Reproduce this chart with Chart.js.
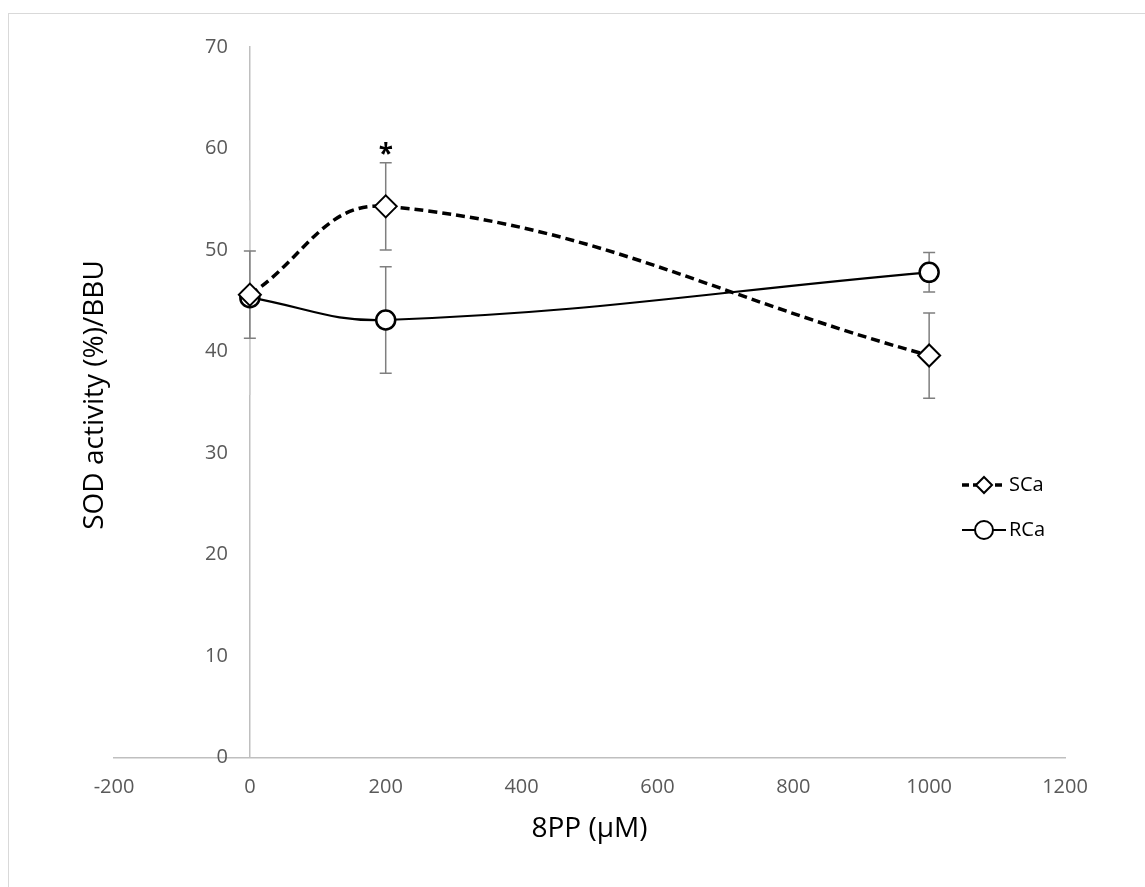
<!DOCTYPE html>
<html>
<head>
<meta charset="utf-8">
<script src="https://cdn.jsdelivr.net/npm/chart.js@4.4.0/dist/chart.umd.min.js"></script>
<style>
  html, body { margin: 0; padding: 0; background: #fff; }
  #wrap { position: relative; width: 1145px; height: 887px; overflow: hidden; }
  #frame { position: absolute; left: 8px; top: 13px; width: 1200px; height: 900px; border: 1.5px solid #d9d9d9; }
  #sodChart { position: absolute; left: 0; top: 0; }
</style>
</head>
<body>
<div id="wrap">
  <div id="frame"></div>
  <canvas id="sodChart" width="1145" height="887"></canvas>
</div>
<script>
// data
const doses = [0, 200, 1000];
const scaValues = [45.6, 54.3, 39.6];
const scaErrors = [4.3, 4.3, 4.2];
const rcaValues = [45.3, 43.1, 47.8];
const rcaErrors = [9.6, 5.25, 1.95];
const xTicks = [-200, 0, 200, 400, 600, 800, 1000, 1200];
const yTicks = [0, 10, 20, 30, 40, 50, 60, 70];

const FONT = "'Open Sans', 'Liberation Sans', sans-serif";

function toPoints(xs, ys) {
    return xs.map((x, i) => ({ x: x, y: ys[i] }));
}

const extrasPlugin = {
    id: 'extras',
    // error bars go under the markers
    beforeDatasetsDraw(chart) {
        const ctx = chart.ctx;
        const xs = chart.scales.x;
        const ys = chart.scales.y;
        const sets = [
            { vals: rcaValues, errs: rcaErrors, caps: [false, true, true] },
            { vals: scaValues, errs: scaErrors, caps: [true, true, true] }
        ];
        ctx.save();
        sets.forEach(s => {
            s.vals.forEach((v, i) => {
                const px = xs.getPixelForValue(doses[i]);
                const top = ys.getPixelForValue(v + s.errs[i]);
                const bot = ys.getPixelForValue(v - s.errs[i]);
                ctx.strokeStyle = s.caps[i] ? '#7f7f7f' : '#cfcfcf';
                ctx.lineWidth = 1.5;
                ctx.beginPath();
                ctx.moveTo(px, top);
                ctx.lineTo(px, bot);
                if (s.caps[i]) {
                    ctx.moveTo(px - 6, top);
                    ctx.lineTo(px + 6, top);
                    ctx.moveTo(px - 6, bot);
                    ctx.lineTo(px + 6, bot);
                }
                ctx.stroke();
            });
        });
        ctx.restore();
    },
    afterDraw(chart) {
        const ctx = chart.ctx;
        const xs = chart.scales.x;
        const ys = chart.scales.y;
        const axisX = xs.getPixelForValue(0);

        ctx.save();
        // y tick labels, left of the crossing axis
        ctx.fillStyle = '#595959';
        ctx.font = '20px ' + FONT;
        ctx.textAlign = 'right';
        ctx.textBaseline = 'middle';
        ys.ticks.forEach(t => {
            ctx.fillText(String(t.value), axisX - 22, ys.getPixelForValue(t.value));
        });

        // significance mark
        ctx.fillStyle = '#000';
        ctx.font = 'bold 26px ' + FONT;
        ctx.textAlign = 'center';
        ctx.fillText('*', xs.getPixelForValue(doses[1]), ys.getPixelForValue(scaValues[1] + scaErrors[1]) - 7);

        // y axis title
        ctx.font = '28px ' + FONT;
        ctx.fillStyle = '#000';
        ctx.translate(95, 395);
        ctx.rotate(-Math.PI / 2);
        ctx.fillText('SOD activity (%)/BBU', 0, 0);
        ctx.restore();

        // legend: line sample with the marker in the middle
        const rows = [
            { label: 'SCa', y: 485, dash: [7, 4], width: 3.5, style: 'rectRot' },
            { label: 'RCa', y: 530, dash: [], width: 2, style: 'circle' }
        ];
        rows.forEach(r => {
            ctx.save();
            ctx.strokeStyle = '#000';
            ctx.lineWidth = r.width;
            ctx.setLineDash(r.dash);
            ctx.beginPath();
            ctx.moveTo(962, r.y);
            ctx.lineTo(1006, r.y);
            ctx.stroke();
            ctx.setLineDash([]);
            ctx.fillStyle = '#fff';
            ctx.lineWidth = 2;
            ctx.beginPath();
            if (r.style === 'circle') {
                ctx.arc(984, r.y, 9, 0, Math.PI * 2);
            } else {
                ctx.moveTo(984, r.y - 8);
                ctx.lineTo(992, r.y);
                ctx.lineTo(984, r.y + 8);
                ctx.lineTo(976, r.y);
                ctx.closePath();
            }
            ctx.fill();
            ctx.stroke();
            ctx.fillStyle = '#000';
            ctx.font = '20px ' + FONT;
            ctx.textAlign = 'left';
            ctx.textBaseline = 'middle';
            ctx.fillText(r.label, 1009, r.y);
            ctx.restore();
        });
    }
};

const ctx = document.getElementById('sodChart');
new Chart(ctx, {
    type: 'scatter',
    data: {
        datasets: [
            {
                label: 'SCa',
                data: toPoints(doses, scaValues),
                showLine: true,
                tension: 0.4,
                borderColor: '#000',
                borderWidth: 3.5,
                borderDash: [9, 5],
                pointStyle: 'rectRot',
                pointRadius: 11,
                pointBorderWidth: 2,
                pointBackgroundColor: '#fff',
                pointBorderColor: '#000'
            },
            {
                label: 'RCa',
                data: toPoints(doses, rcaValues),
                showLine: true,
                tension: 0.4,
                borderColor: '#000',
                borderWidth: 2.2,
                pointStyle: 'circle',
                pointRadius: 9.5,
                pointBorderWidth: 2.5,
                pointBackgroundColor: '#fff',
                pointBorderColor: '#000'
            }
        ]
    },
    options: {
        responsive: false,
        animation: false,
        layout: { padding: { left: 114, right: 80, top: 47, bottom: 37 } },
        plugins: {
            legend: { display: false },
            tooltip: { enabled: false }
        },
        scales: {
            x: {
                type: 'linear',
                min: xTicks[0],
                max: xTicks[xTicks.length - 1],
                afterBuildTicks: axis => { axis.ticks = xTicks.map(v => ({ value: v })); },
                grid: { display: false },
                border: { display: true, color: '#bfbfbf', width: 1.5 },
                ticks: {
                    color: '#595959',
                    font: { size: 20, family: FONT },
                    padding: 10,
                    callback: v => String(v)
                },
                title: { display: true, text: '8PP (µM)', color: '#000', font: { size: 28, family: FONT }, padding: { top: 3, bottom: 4 } }
            },
            y: {
                type: 'linear',
                position: { x: 0 },
                min: yTicks[0],
                max: yTicks[yTicks.length - 1],
                afterBuildTicks: axis => { axis.ticks = yTicks.map(v => ({ value: v })); },
                grid: { display: false },
                border: { display: true, color: '#bfbfbf', width: 1.5 },
                ticks: { display: false }
            }
        }
    },
    plugins: [extrasPlugin]
});
</script>
</body>
</html>
